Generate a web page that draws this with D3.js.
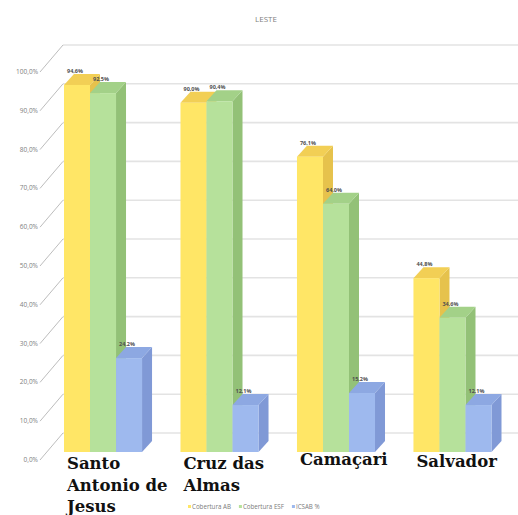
<!DOCTYPE html>
<html>
<head>
<meta charset="utf-8">
<script src="https://cdn.jsdelivr.net/npm/d3@7"></script>
<style>
  html, body { margin: 0; padding: 0; background: #ffffff; }
  svg { display: block; }
</style>
</head>
<body>
<svg id="chart" width="518" height="515"></svg>
<script>
// Coverage indicators by municipality, Leste health macro-region
const title = "LESTE";
const categories = ["Santo Antonio de Jesus", "Cruz das Almas", "Camaçari", "Salvador"];
const categoryLines = [["Santo", "Antonio de", "Jesus"], ["Cruz das", "Almas"], ["Camaçari"], ["Salvador"]];
const seriesNames = ["Cobertura AB", "Cobertura ESF", "ICSAB %"];
const coberturaAB = [94.6, 90.0, 76.1, 44.8];
const coberturaESF = [92.5, 90.4, 64.0, 34.6];
const icsab = [24.2, 12.1, 15.2, 12.1];
const yTicks = [0, 10, 20, 30, 40, 50, 60, 70, 80, 90, 100];

const seriesValues = [coberturaAB, coberturaESF, icsab];
const fronts = ["#FFE666", "#B6E19B", "#9EB9EE"];
const sides = ["#E6C24C", "#93C177", "#8099D6"];
const tops = ["#F2CF55", "#A3D188", "#8DA8E2"];

const svg = d3.select("#chart");
const fmt = v => d3.format(".1f")(v).replace(".", ",") + "%";

// 3D geometry: bar depth and back-wall offset
const barDx = 10, barDy = 11;
const wallDx = 23, wallDy = 27;

const y = d3.scaleLinear().domain([0, 100]).range([452, 64]);
const x0 = d3.scaleBand().domain(categories).range([64, 491.5]).paddingInner(0.33).paddingOuter(0);
const x1 = d3.scaleBand().domain(seriesNames).range([0, x0.bandwidth()]).padding(0);

// Title
svg.append("text")
  .attr("x", 266).attr("y", 22)
  .attr("text-anchor", "middle")
  .attr("font-family", "Open Sans, sans-serif")
  .attr("font-size", 8)
  .attr("fill", "#7f7f7f")
  .text(title);

// Back wall gridlines, side wall diagonals and axis labels
const grid = svg.append("g");
yTicks.forEach(t => {
  const yy = y(t) + 8 - wallDy;
  grid.append("line")
    .attr("x1", 40 + wallDx).attr("x2", 518)
    .attr("y1", yy).attr("y2", yy)
    .attr("stroke", "#e3e3e3").attr("stroke-width", 1.6);
  grid.append("line")
    .attr("x1", 40).attr("y1", y(t) + 8)
    .attr("x2", 40 + wallDx).attr("y2", yy)
    .attr("stroke", "#bdbdbd").attr("stroke-width", 1);
  grid.append("text")
    .attr("x", 38).attr("y", y(t) + 10)
    .attr("text-anchor", "end")
    .attr("font-family", "Open Sans, sans-serif")
    .attr("font-size", 6.5)
    .attr("fill", "#808080")
    .text(fmt(t));
});

// Bars: side, top and front faces
const bars = svg.append("g");
categories.forEach((c, ci) => {
  seriesNames.forEach((s, si) => {
    const v = seriesValues[si][ci];
    const bx = x0(c) + x1(s);
    const w = x1.bandwidth();
    const yt = y(v), yb = y(0);
    const g = bars.append("g");
    g.append("path")
      .attr("d", `M${bx + w},${yt} L${bx + w + barDx},${yt - barDy} L${bx + w + barDx},${yb - barDy} L${bx + w},${yb} Z`)
      .attr("fill", sides[si]);
    g.append("path")
      .attr("d", `M${bx},${yt} L${bx + barDx},${yt - barDy} L${bx + w + barDx},${yt - barDy} L${bx + w},${yt} Z`)
      .attr("fill", tops[si]);
    g.append("rect")
      .attr("x", bx).attr("y", yt)
      .attr("width", w).attr("height", yb - yt)
      .attr("fill", fronts[si]);
  });
});

// Value labels
categories.forEach((c, ci) => {
  seriesNames.forEach((s, si) => {
    const v = seriesValues[si][ci];
    const bx = x0(c) + x1(s);
    svg.append("text")
      .attr("x", bx + 3).attr("y", y(v) - barDy - 1)
      .attr("font-family", "Open Sans, sans-serif")
      .attr("font-size", 5.5)
      .attr("font-weight", "bold")
      .attr("fill", "#505050")
      .text(fmt(v));
  });
});

// Category labels
const baseY = [469, 469, 465, 467];
categories.forEach((c, ci) => {
  const t = svg.append("text")
    .attr("x", x0(c) + 3)
    .attr("y", baseY[ci])
    .attr("font-family", "DejaVu Serif, serif")
    .attr("font-weight", "bold")
    .attr("font-size", 16.5)
    .attr("fill", "#111111");
  categoryLines[ci].forEach((ln, li) => {
    t.append("tspan").attr("x", x0(c) + 3).attr("dy", li === 0 ? 0 : 21.5).text(ln);
  });
});

// Legend
const legend = svg.append("g").attr("transform", "translate(188,509)");
let lx = 0;
seriesNames.forEach((s, si) => {
  legend.append("rect").attr("x", lx).attr("y", -4).attr("width", 3).attr("height", 3).attr("fill", fronts[si]);
  const tx = legend.append("text")
    .attr("x", lx + 4).attr("y", 0)
    .attr("font-family", "Open Sans, sans-serif")
    .attr("font-size", 6.2)
    .attr("fill", "#7a7a7a")
    .text(s);
  lx += tx.node().getComputedTextLength() + 12;
});
</script>
</body>
</html>
